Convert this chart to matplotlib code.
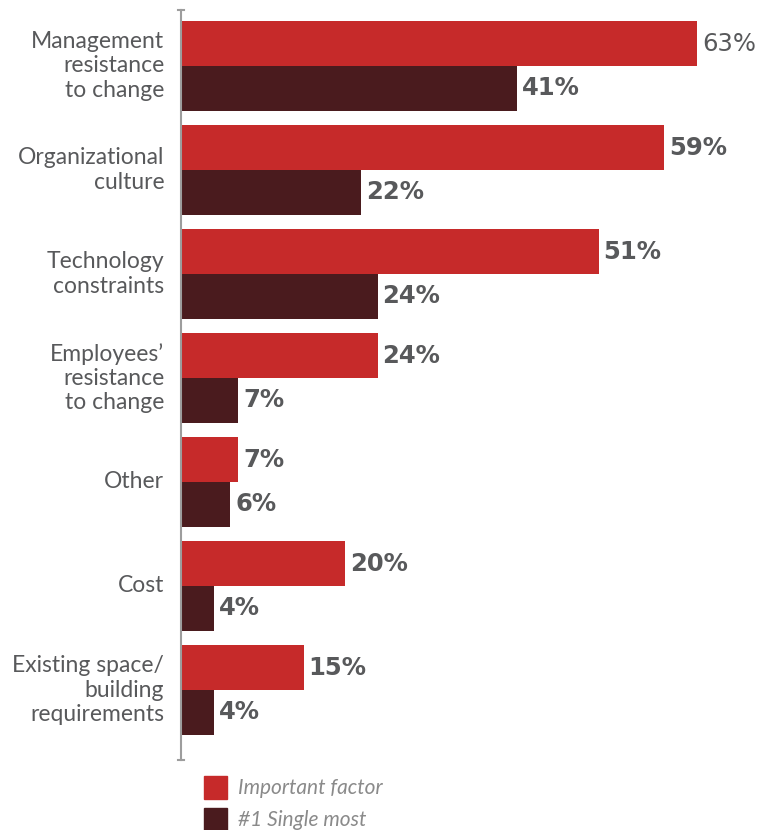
import matplotlib
matplotlib.use("Agg")
import matplotlib.pyplot as plt
from matplotlib.patches import Rectangle

categories = [
    "Management\nresistance\nto change",
    "Organizational\nculture",
    "Technology\nconstraints",
    "Employees’\nresistance\nto change",
    "Other",
    "Cost",
    "Existing space/\nbuilding\nrequirements",
]
important = [63, 59, 51, 24, 7, 20, 15]
single_most = [41, 22, 24, 7, 6, 4, 4]
series_names = ["Important factor", "#1 Single most"]

RED = "#c62a2a"
DARK = "#4a1b1e"
GRAY = "#58595b"

plt.rcParams['font.family'] = ['Lato', 'DejaVu Sans']

W, H = 761, 830
fig = plt.figure(figsize=(W / 100, H / 100), dpi=100)
ax = fig.add_axes([181 / W, 1 - 760 / H, 580 / W, 750 / H])

h = 0.43
pos = list(range(len(categories)))
ax.barh([p - h / 2 for p in pos], important, height=h, color=RED)
ax.barh([p + h / 2 for p in pos], single_most, height=h, color=DARK)

ax.set_xlim(0, 580 / 8.19)
ax.set_ylim(6.673, -0.538)

for p, a, b in zip(pos, important, single_most):
    w = "normal" if a == 63 else "bold"
    ax.annotate(f"{a}%", (a, p - h / 2), xytext=(3.5, 0), textcoords="offset points",
                va="center", ha="left", fontsize=17.5, fontweight=w, color=GRAY,
                family="DejaVu Sans")
    ax.annotate(f"{b}%", (b, p + h / 2), xytext=(3.5, 0), textcoords="offset points",
                va="center", ha="left", fontsize=17.5, fontweight="bold", color=GRAY,
                family="DejaVu Sans")
    ax.annotate(categories[p], (0, p), xytext=(-12, 0), textcoords="offset points",
                va="center", ha="right", fontsize=16.5, color=GRAY, linespacing=1.2)

for s in ["top", "right", "bottom"]:
    ax.spines[s].set_visible(False)
ax.spines["left"].set_color("#9d9d9d")
ax.spines["left"].set_linewidth(1.5)
ax.set_xticks([])
ax.set_yticks([])
# small caps at both ends of the axis line
for yv in [0, 1]:
    ax.plot([-0.4, 0.4], [yv, yv], transform=ax.get_xaxis_transform(), color="#9d9d9d",
            lw=1.5, clip_on=False)

# legend
for i, (name, c) in enumerate(zip(series_names, [RED, DARK])):
    top = 776 + i * 32
    fig.patches.append(Rectangle((204 / W, 1 - (top + 23) / H), 23 / W, 23 / H,
                                 transform=fig.transFigure, color=c))
    fig.text(238 / W, 1 - (top + 11.5) / H, name, ha="left", va="center",
             fontsize=15, style="italic", color="#8a8a8a")

fig.savefig("out.png", dpi=100)
